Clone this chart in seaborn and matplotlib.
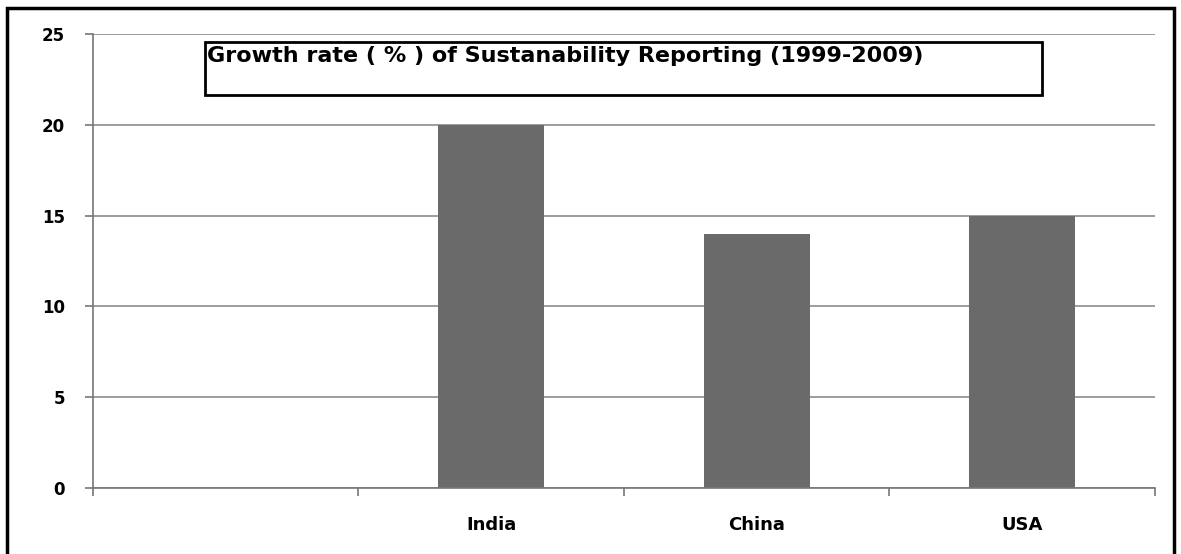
import numpy as np
import pandas as pd
import seaborn as sns
import matplotlib.pyplot as plt
from matplotlib.patches import Rectangle

# data
countries = ["", "India", "China", "USA"]
growth_rate = [0, 20, 14, 15]
y_ticks = [0, 5, 10, 15, 20, 25]
title_text = "Growth rate ( % ) of Sustanability Reporting (1999-2009)"

sns.set_style("white")
plt.rcParams['font.family'] = ['DejaVu Sans']
plt.rcParams['text.color'] = 'black'
plt.rcParams['xtick.color'] = 'black'
plt.rcParams['ytick.color'] = 'black'

fig = plt.figure(figsize=(11.81, 5.54), dpi=100)
ax = fig.add_axes([0.0787, 0.1191, 0.8993, 0.8195])

df = pd.DataFrame({"country": countries, "rate": growth_rate})
sns.barplot(data=df, x="country", y="rate", order=countries, color="#6a6a6a",
            saturation=1, width=0.4, linewidth=0, ax=ax)

ax.set_ylim(0, 25)
ax.set_xlim(-0.5, len(countries) - 0.5)
ax.set_yticks(y_ticks)
ax.yaxis.grid(True, color="#8c8c8c", linewidth=1.2)
ax.set_axisbelow(True)
ax.set_xlabel("")
ax.set_ylabel("")

# tick marks on category boundaries, labels centred
ax.set_xticks(np.arange(len(countries)))
ax.set_xticklabels(countries, fontsize=13, fontweight="bold")
ax.set_xticks(np.arange(len(countries) + 1) - 0.5, minor=True)
ax.tick_params(axis="x", which="major", bottom=True, length=0, pad=20,
               labelcolor="black")
ax.tick_params(axis="x", which="minor", bottom=True, length=6, width=1.2,
               color="#777777", direction="out")
ax.tick_params(axis="y", left=True, length=6, width=1.2, color="#777777",
               direction="out", pad=14, labelcolor="black")
for lab in ax.get_yticklabels():
    lab.set_fontsize(12)
    lab.set_fontweight("bold")

for side in ["top", "right"]:
    ax.spines[side].set_visible(False)
for side in ["left", "bottom"]:
    ax.spines[side].set_color("#777777")
    ax.spines[side].set_linewidth(1.2)

# boxed title inside the plot area
box = Rectangle((0.1055, 0.866), 0.788, 0.116, transform=ax.transAxes,
                facecolor="white", edgecolor="black", linewidth=2, zorder=5)
ax.add_patch(box)
ax.text(0.1075, 0.974, title_text, transform=ax.transAxes, fontsize=16,
        fontweight="bold", color="black", va="top", ha="left", zorder=6)

# outer frame of the picture
fig.patches.append(Rectangle((0.006, -0.05), 0.988, 1.035, transform=fig.transFigure,
                             fill=False, edgecolor="black", linewidth=2.5))

fig.savefig("out.png", dpi=100)
